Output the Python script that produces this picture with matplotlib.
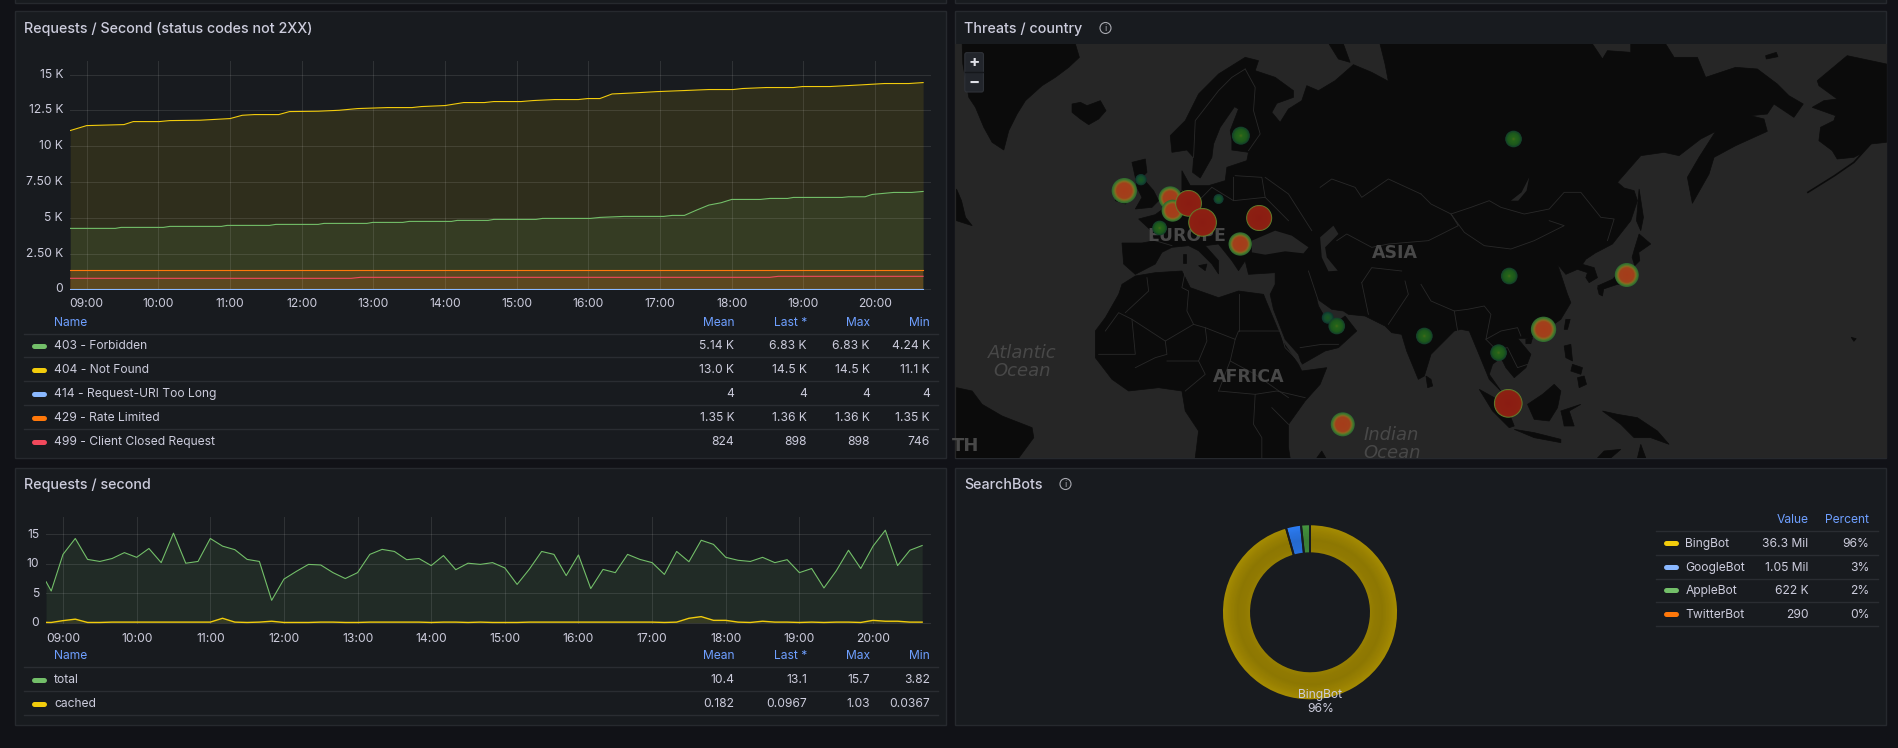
import numpy as np
import matplotlib
matplotlib.use('Agg')
import matplotlib.pyplot as plt
from matplotlib.patches import Rectangle, Circle, Polygon, FancyBboxPatch
from matplotlib.colors import LinearSegmentedColormap, to_rgb
from matplotlib.transforms import ScaledTranslation

plt.rcParams['font.family'] = ['Inter', 'DejaVu Sans']

W, H = 1899, 748
PAGE = '#111217'
PANEL = '#181b1f'
BORDER = '#26292e'
TEXT = '#ccccdc'
HEAD = '#6e9fff'
GREEN, YELLOW, BLUE, ORANGE, RED = '#73bf69', '#f2cc0c', '#8ab8ff', '#ff780a', '#f2495c'

# --- requests / second, status codes not 2XX (hours of the day, req/s)
t_404 = [8.77, 9.00, 9.52, 9.65, 10.01, 10.16, 10.58, 11.00, 11.17, 11.34, 11.68, 11.83, 12.23, 12.52, 12.78,
         13.20, 13.54, 13.67, 14.00, 14.26, 14.55, 14.68, 15.06, 15.23, 15.53, 15.86, 15.99, 16.16, 16.33, 16.62,
         16.96, 17.34, 17.68, 18.02, 18.15, 18.48, 18.86, 18.99, 19.37, 19.79, 20.13, 20.47, 20.67]
v_404 = [11094, 11440, 11510, 11720, 11720, 11790, 11815, 11930, 12160, 12210, 12210, 12420, 12445, 12510, 12630,
         12700, 12700, 12770, 12840, 13050, 13050, 13120, 13120, 13190, 13260, 13260, 13330, 13330, 13650, 13720,
         13815, 13890, 13960, 13960, 14030, 14100, 14100, 14170, 14170, 14280, 14380, 14380, 14445]
t_403 = [8.77, 9.40, 9.48, 10.07, 10.16, 10.88, 10.96, 11.55, 11.64, 12.23, 12.31, 12.91, 12.99, 13.41, 13.50,
         14.09, 14.17, 14.60, 14.68, 15.27, 15.36, 16.03, 16.16, 16.50, 17.05, 17.17, 17.34, 17.51, 17.68, 17.85,
         18.00, 18.40, 18.53, 18.78, 18.86, 19.54, 19.63, 19.86, 19.96, 20.26, 20.51, 20.67]
v_403 = [4257, 4257, 4326, 4326, 4396, 4396, 4466, 4466, 4536, 4536, 4605, 4605, 4675, 4675, 4745,
         4745, 4815, 4815, 4885, 4885, 4954, 4954, 5024, 5094, 5094, 5164, 5164, 5536, 5885, 6047,
         6280, 6280, 6350, 6350, 6420, 6420, 6466, 6466, 6629, 6769, 6769, 6838]
t_429 = [8.77, 20.67]
v_429 = [1326, 1326]
t_499 = [8.77, 12.69, 12.82, 18.53, 18.65, 20.67]
v_499 = [767, 767, 837, 837, 907, 907]
t_414 = [8.77, 20.67]
v_414 = [4, 4]

# --- requests / second
t_rps = [8.77, 8.84] + [9 + i / 6 for i in range(71)]
v_total = [6.96, 5.38, 11.6, 14.3, 10.75, 10.4, 10.9, 11.9, 11.1, 12.6, 10.2, 15.2, 10.1, 10.4, 14.3, 13.0, 12.4,
           10.75, 10.4, 3.8, 7.4, 8.7, 9.9, 9.8, 8.5, 7.5, 8.5, 11.6, 12.45, 12.1, 10.7, 10.9, 9.7, 11.4, 9.0, 10.1,
           9.9, 10.2, 9.3, 6.5, 9.1, 12.1, 11.6, 8.0, 11.5, 5.8, 9.05, 8.5, 11.6, 10.75, 10.2, 8.2, 12.1, 10.35, 14.0,
           13.3, 11.1, 10.6, 10.4, 11.1, 10.2, 10.7, 8.5, 9.2, 5.9, 8.8, 12.3, 9.2, 13.0, 15.7, 9.7, 12.3, 13.1]
v_cached = [0.05, 0.04, 0.35, 0.6, 0.04, 0.04, 0.1, 0.1, 0.1, 0.1, 0.1, 0.1, 0.1, 0.1, 0.1, 0.75, 0.1,
            0.04, 0.1, 0.25, 0.04, 0.04, 0.04, 0.1, 0.1, 0.04, 0.04, 0.1, 0.1, 0.1, 0.1, 0.1, 0.04, 0.1, 0.1, 0.04,
            0.1, 0.04, 0.04, 0.04, 0.1, 0.1, 0.1, 0.1, 0.1, 0.1, 0.1, 0.1, 0.1, 0.1, 0.1, 0.04, 0.1, 0.75, 1.03,
            0.4, 0.4, 0.1, 0.04, 0.25, 0.1, 0.1, 0.04, 0.1, 0.04, 0.1, 0.1, 0.04, 0.4, 0.25, 0.25, 0.1, 0.0967]

hour_ticks = list(range(9, 21))
hour_labels = ['%02d:00' % h for h in hour_ticks]
ticks_404 = [0, 2500, 5000, 7500, 10000, 12500, 15000]
ticklabels_404 = ['0', '2.50 K', '5 K', '7.50 K', '10 K', '12.5 K', '15 K']
ticks_rps = [0, 5, 10, 15]

# --- legend tables
table_cols = ['Mean', 'Last *', 'Max', 'Min']
names_status = ['403 - Forbidden', '404 - Not Found', '414 - Request-URI Too Long', '429 - Rate Limited',
                '499 - Client Closed Request']
colors_status = [GREEN, YELLOW, BLUE, ORANGE, RED]
stats_status = [['5.14 K', '6.83 K', '6.83 K', '4.24 K'], ['13.0 K', '14.5 K', '14.5 K', '11.1 K'],
                ['4', '4', '4', '4'], ['1.35 K', '1.36 K', '1.36 K', '1.35 K'], ['824', '898', '898', '746']]
names_rps = ['total', 'cached']
colors_rps = [GREEN, YELLOW]
stats_rps = [['10.4', '13.1', '15.7', '3.82'], ['0.182', '0.0967', '1.03', '0.0367']]

# --- searchbots donut
bot_names = ['BingBot', 'GoogleBot', 'AppleBot', 'TwitterBot']
bot_values = [36.3e6, 1.05e6, 622e3, 290]
bot_value_labels = ['36.3 Mil', '1.05 Mil', '622 K', '290']
bot_percent = ['96%', '3%', '2%', '0%']
bot_legend_colors = [YELLOW, BLUE, GREEN, ORANGE]
bot_slice_colors = ['#a68c02', '#2c7df5', '#45953f', '#ff780a']

# --- threat map, outlines traced by eye (map units, 3 per screen pixel)
eurasia = [(540, 691), (505, 660), (500, 597), (560, 597), (600, 590), (588, 560), (550, 525), (600, 512), (630, 490),
           (680, 440), (680, 380), (705, 425), (760, 425), (810, 410), (815, 370), (875, 350), (880, 325), (830, 318),
           (830, 290), (825, 260), (850, 195), (838, 188), (795, 250), (775, 300), (770, 340), (735, 402), (712, 385),
           (715, 340), (695, 318), (650, 325), (645, 275), (690, 230), (730, 150), (790, 90), (870, 40), (910, 50),
           (900, 80), (960, 100), (1015, 140), (1015, 160), (965, 178), (950, 205), (975, 235), (1000, 195),
           (1040, 170), (1055, 125), (1090, 140), (1140, 110), (1195, 62), (1250, 85), (1300, 112), (1290, 60),
           (1275, 0), (1913, 0), (1943, 45), (1958, 20), (2028, 25), (2028, 0), (2133, 0), (2158, 40), (2228, 40),
           (2253, 100), (2343, 70), (2408, 75), (2468, 120), (2503, 155), (2546, 180), (2518, 220), (2458, 180),
           (2438, 210), (2388, 215), (2428, 225), (2438, 262), (2343, 305), (2278, 340), (2263, 390), (2213, 478),
           (2198, 400), (2233, 340), (2283, 262), (2238, 285), (2173, 335), (2128, 325), (2058, 335), (1988, 415),
           (2008, 432), (2038, 440), (2048, 470), (2028, 530), (1973, 600), (1933, 621), (1923, 626), (1893, 646),
           (1883, 661), (1918, 671), (1928, 701), (1903, 716), (1893, 701), (1898, 686), (1868, 676), (1833, 691),
           (1808, 661), (1823, 706), (1838, 751), (1848, 776), (1818, 826), (1768, 861), (1723, 883), (1688, 883),
           (1728, 931), (1713, 971), (1678, 1001), (1653, 971), (1638, 941), (1613, 961), (1603, 991), (1638, 1041),
           (1603, 1006), (1568, 921), (1543, 861), (1518, 856), (1498, 861), (1428, 931), (1408, 996), (1390, 1006),
           (1355, 921), (1340, 871), (1310, 866), (1290, 846), (1230, 816), (1180, 811), (1165, 801), (1130, 796),
           (1095, 771), (1085, 766), (1090, 786), (1110, 821), (1150, 831), (1170, 816), (1205, 861), (1150, 911),
           (1110, 921), (1040, 961), (1030, 931), (990, 886), (955, 796), (945, 751), (960, 721), (960, 686),
           (880, 691), (870, 650), (850, 680), (830, 650), (790, 600), (750, 605), (790, 650), (790, 690), (770, 660),
           (730, 620), (700, 605), (650, 610), (620, 625), (600, 660)]
africa = [(500, 721), (540, 696), (600, 686), (680, 681), (705, 731), (790, 761), (850, 741), (925, 751), (935, 776),
          (985, 896), (1030, 961), (1040, 981), (1115, 971), (1095, 1021), (1050, 1071), (1000, 1141), (1000, 1211),
          (1005, 1242), (720, 1242), (730, 1161), (690, 1101), (680, 1041), (610, 1031), (520, 1041), (470, 1006),
          (420, 941), (420, 861), (450, 821), (490, 751)]
greenland = [(20, 0), (360, 0), (372, 40), (340, 70), (300, 100), (260, 125), (210, 170), (185, 210), (160, 260),
             (145, 318), (110, 295), (85, 250), (60, 190), (40, 160), (22, 60)]
alaska = [(2588, 110), (2678, 35), (2796, 60), (2796, 295), (2748, 300), (2718, 330), (2698, 340), (2648, 345),
          (2633, 320), (2593, 290), (2598, 250), (2638, 230), (2643, 215), (2573, 190), (2608, 170), (2648, 165),
          (2593, 125)]
islands = [
    [(350, 180), (375, 175), (395, 185), (435, 170), (452, 200), (430, 225), (400, 242), (375, 225), (350, 205)],
    [(485, 420), (525, 410), (535, 450), (510, 480), (480, 470)],
    [(530, 355), (570, 345), (575, 385), (560, 400), (595, 440), (610, 470), (590, 490), (540, 495), (560, 460),
     (545, 430), (540, 400)],
    [(1122, 0), (1165, 0), (1185, 55), (1150, 45)],
    [(3, 1031), (50, 1041), (80, 1081), (140, 1116), (230, 1151), (235, 1181), (190, 1242), (3, 1242)],
    [(3, 435), (18, 470), (30, 520), (50, 545), (3, 530)],
    [(1085, 1242), (1100, 1221), (1112, 1242)],
    [(1413, 996), (1428, 1006), (1433, 1026), (1418, 1031)],
    [(1573, 1036), (1618, 1061), (1668, 1121), (1678, 1146), (1663, 1151), (1613, 1101)],
    [(1678, 1156), (1738, 1166), (1818, 1186), (1818, 1196), (1738, 1181)],
    [(1718, 1081), (1763, 1051), (1798, 1021), (1818, 1041), (1808, 1091), (1783, 1131), (1738, 1126)],
    [(1818, 1101), (1878, 1081), (1843, 1101), (1858, 1146), (1828, 1146), (1823, 1121)],
    [(1943, 1101), (1988, 1111), (2048, 1121), (2108, 1161), (2143, 1201), (2088, 1181), (2038, 1181), (1998, 1141)],
    [(1828, 906), (1848, 901), (1853, 951), (1833, 941)],
    [(1868, 1001), (1888, 996), (1895, 1021), (1873, 1031)],
    [(1853, 961), (1883, 971), (1878, 991), (1848, 981)],
    [(1833, 826), (1846, 826), (1838, 856), (1828, 856)],
    [(1713, 886), (1733, 881), (1728, 899), (1713, 899)],
    [(1928, 726), (1973, 706), (1998, 681), (2018, 671), (2038, 681), (2023, 721), (1988, 721), (1943, 736)],
    [(1928, 731), (1948, 726), (1943, 756), (1933, 751)],
    [(2040, 612), (2053, 570), (2088, 600), (2052, 625), (2055, 650), (2040, 665), (2032, 640)],
    [(2053, 435), (2066, 520), (2058, 560), (2045, 530)],
    [(2433, 35), (2465, 25), (2470, 38), (2435, 45)],
    [(1928, 1242), (1948, 1221), (1998, 1216), (1968, 1242)],
    [(2048, 1242), (2058, 1201), (2073, 1242)],
    [(683, 631), (692, 631), (692, 656), (683, 656)],
    [(730, 665), (755, 660), (750, 680)],
    [(2690, 880), (2705, 884), (2698, 892)],
]
inland_seas = [
    [(890, 590), (960, 560), (1010, 575), (1060, 610), (1045, 628), (990, 622), (930, 632), (890, 625)],
    [(1095, 580), (1135, 545), (1150, 570), (1110, 610), (1115, 640), (1148, 680), (1120, 682), (1100, 640)],
    [(1723, 400), (1700, 445), (1668, 470), (1690, 470), (1715, 440)],
]
aleutians = [(2748, 300), (2698, 355), (2640, 395), (2560, 445)]
borders = [
    [(1398, 450), (1428, 480), (1488, 510), (1548, 490), (1603, 470), (1638, 490), (1708, 510), (1783, 495),
     (1828, 445), (1878, 445), (1938, 520), (1978, 525), (1958, 590)],
    [(1488, 510), (1528, 565), (1588, 605), (1668, 615), (1738, 590), (1828, 545), (1783, 530)],
    [(1095, 430), (1130, 405), (1200, 430), (1220, 460), (1300, 405), (1398, 450)],
    [(1488, 510), (1510, 545), (1420, 590), (1300, 600), (1250, 610), (1175, 570), (1145, 590)],
    [(450, 861), (490, 806), (530, 826), (630, 891), (715, 841), (750, 851), (840, 886), (850, 861), (975, 861)],
    [(850, 751), (850, 861)],
    [(510, 806), (580, 741), (575, 701)],
    [(690, 681), (680, 731), (700, 741), (695, 801), (715, 841)],
    [(530, 826), (540, 931), (430, 931)],
    [(630, 891), (635, 931), (600, 941), (540, 971)],
    [(750, 851), (755, 891), (730, 951), (635, 951)],
    [(840, 886), (825, 951), (790, 1041)],
    [(730, 951), (750, 991), (690, 1041)],
    [(825, 951), (900, 991), (1000, 1061)],
    [(975, 861), (990, 911), (1040, 961)],
    [(790, 1041), (900, 1051), (965, 1041), (1050, 1061)],
    [(900, 1051), (895, 1141), (920, 1181), (920, 1242)],
    [(1000, 1141), (950, 1091)],
    [(1035, 911), (1100, 901), (1150, 901)],
    [(1060, 681), (1090, 771)],
    [(1220, 716), (1250, 671), (1340, 681)],
    [(1220, 716), (1240, 811)],
    [(1300, 841), (1360, 751), (1350, 711)],
    [(1398, 721), (1428, 771), (1498, 801), (1538, 796), (1588, 786), (1608, 811), (1593, 886), (1638, 861),
     (1688, 851), (1698, 876)],
    [(1498, 801), (1508, 861)],
    [(1593, 886), (1623, 916), (1658, 911), (1688, 971), (1718, 961)],
    [(715, 340), (720, 230), (790, 140), (830, 100), (870, 75)],
    [(870, 75), (900, 130), (895, 200), (915, 270), (880, 320)],
    [(770, 430), (835, 470), (835, 400)],
    [(835, 470), (930, 460), (1000, 530)],
    [(840, 395), (920, 400), (930, 460)],
    [(930, 400), (1000, 450), (1070, 560)],
    [(680, 440), (730, 470), (770, 430)],
    [(600, 590), (650, 605)],
]
map_labels = [('EUROPE', 695, 575, 12.5, 'normal'), ('ASIA', 1320, 626, 12.5, 'normal'), ('AFRICA', 880, 999, 12.5, 'normal'),
              ('Atlantic', 200, 926, 13, 'italic'), ('Ocean', 200, 981, 13, 'italic'),
              ('Indian', 1310, 1174, 13, 'italic'), ('Ocean', 1310, 1226, 13, 'italic'), ('TH', 30, 1206, 13, 'normal')]

threat_x = [857, 557, 507, 645, 652, 700, 742, 790, 613, 912, 855, 1676, 1118, 1145, 1163, 1663, 2016, 1766, 1631, 1408, 1660]
threat_y = [275, 407, 440, 462, 500, 478, 535, 465, 552, 522, 600, 285, 821, 846, 1141, 696, 693, 856, 926, 876, 1078]
threat_r = [27, 17, 38, 35, 33, 40, 43, 15, 22, 39, 35, 25, 18, 25, 36, 25, 36, 38, 25, 25, 43]

heat_big = LinearSegmentedColormap.from_list('big', [(0, '#8a1c12'), (0.9, '#8c2012'), (0.97, '#7a4a1e'), (1, '#5f8a30')])
heat_mid = LinearSegmentedColormap.from_list('mid', [(0, '#a53c1a'), (0.62, '#a2401b'), (0.76, '#8a6a20'),
                                                     (0.86, '#4f7a2c'), (1, '#2f6a30')])
heat_low = LinearSegmentedColormap.from_list('low', [(0, '#4a6a18'), (0.25, '#25641a'), (0.7, '#1d5a1c'), (1, '#143f2c')])
heat_tiny = LinearSegmentedColormap.from_list('tiny', [(0, '#1a5a20'), (0.6, '#154e30'), (1, '#10342e')])


def px_axes(left, top, right, bottom, **kw):
    return fig.add_axes([left / W, 1 - bottom / H, (right - left) / W, (bottom - top) / H], **kw)


def panel(x0, y0, x1, y1):
    chrome.add_patch(Rectangle((x0, y0), x1 - x0, y1 - y0, facecolor=PANEL, edgecolor=BORDER, lw=1))


def info_icon(x, y):
    chrome.add_patch(Circle((x, y), 5.5, facecolor='none', edgecolor='#a8a9b0', lw=0.8, zorder=3))
    chrome.text(x, y, 'i', color='#a8a9b0', fontsize=6.5, ha='center', va='center', zorder=3)


def style_chart(ax):
    ax.set_facecolor('none')
    for s in ax.spines.values():
        s.set_visible(False)
    ax.grid(True, color='white', alpha=0.1, lw=0.8)
    ax.tick_params(length=0, colors=TEXT, labelsize=8.7)
    ax.set_xticks(hour_ticks, hour_labels)


def raise_ylabels(ax, px):
    # grafana sets its y labels slightly above the grid line
    for lbl in ax.get_yticklabels():
        lbl.set_transform(lbl.get_transform() + ScaledTranslation(0, px / 100, fig.dpi_scale_trans))


def legend_table(col_x, names, colors, stats, y_head, y_rows, y_lines, x0=24, x1=938):
    for x, c in zip(col_x, table_cols):
        chrome.text(x, y_head, c, color=HEAD, fontsize=8.7, ha='right', va='center', zorder=3)
    chrome.text(54, y_head, 'Name', color=HEAD, fontsize=8.7, ha='left', va='center', zorder=3)
    for y in y_lines:
        chrome.plot([x0, x1], [y, y], color='#2a2d32', lw=1, zorder=2)
    for name, col, row, y in zip(names, colors, stats, y_rows):
        chrome.plot([34, 44], [y, y], color=col, lw=3.6, solid_capstyle='round', zorder=3)
        chrome.text(54, y, name, color=TEXT, fontsize=8.7, ha='left', va='center', zorder=3)
        for x, s in zip(col_x, row):
            chrome.text(x, y, s, color=TEXT, fontsize=8.7, ha='right', va='center', zorder=3)


fig = plt.figure(figsize=(W / 100, H / 100), dpi=100, facecolor=PAGE)
chrome = fig.add_axes([0, 0, 1, 1], zorder=0)
chrome.set_xlim(0, W)
chrome.set_ylim(H, 0)
chrome.axis('off')

panel(15, -5, 946, 2.5)
panel(955, -5, 1886.5, 2.5)
panel(15, 11, 946, 458)
panel(955, 11, 1886.5, 458)
panel(15, 467.5, 946, 724.5)
panel(955, 467.5, 1886.5, 724.5)

chrome.text(24, 29, 'Requests / Second (status codes not 2XX)', color=TEXT, fontsize=10.3, va='center', weight='medium', zorder=3)
chrome.text(964, 29, 'Threats / country', color=TEXT, fontsize=10.3, va='center', weight='medium', zorder=3)
chrome.text(24, 485.3, 'Requests / second', color=TEXT, fontsize=10.3, va='center', weight='medium', zorder=3)
chrome.text(964, 485.3, 'SearchBots', color=TEXT, fontsize=10.3, va='center', weight='medium', zorder=3)
info_icon(1105.5, 28)
info_icon(1065.5, 484)

# status codes chart
ax1 = px_axes(70, 60.7, 931, 289.8, zorder=2)
style_chart(ax1)
ax1.fill_between(t_404, 0, v_404, color=YELLOW, alpha=0.11, lw=0)
ax1.fill_between(t_403, 0, v_403, color=GREEN, alpha=0.1, lw=0)
ax1.fill_between(t_429, 0, v_429, color=ORANGE, alpha=0.19, lw=0)
ax1.fill_between(t_499, 0, v_499, color=RED, alpha=0.02, lw=0)
ax1.plot(t_403, v_403, color=GREEN, lw=0.8)
ax1.plot(t_404, v_404, color=YELLOW, lw=0.8)
ax1.plot(t_414, v_414, color=BLUE, lw=0.8)
ax1.plot(t_429, v_429, color=ORANGE, lw=0.8)
ax1.plot(t_499, v_499, color=RED, lw=0.8)
ax1.set_xlim(8.767, 20.78)
ax1.set_ylim(-35, 15975)
ax1.set_yticks(ticks_404, ticklabels_404)
ax1.tick_params(axis='x', pad=6)
ax1.tick_params(axis='y', pad=5)
raise_ylabels(ax1, 1.5)

legend_table([734.5, 807, 870, 930], names_status, colors_status, stats_status, 323.3,
             [345.7, 369.7, 393.9, 417.7, 441.9], [334.3, 357.3, 381.3, 405.3, 429.3])

# requests / second chart
ax2 = px_axes(46, 516.7, 931, 623.7, zorder=2)
style_chart(ax2)
ax2.fill_between(t_rps, 0, v_total, color=GREEN, alpha=0.1, lw=0)
ax2.fill_between(t_rps, 0, v_cached, color=YELLOW, alpha=0.1, lw=0)
ax2.plot(t_rps, v_total, color=GREEN, lw=0.8)
ax2.plot(t_rps, v_cached, color=YELLOW, lw=1)
ax2.set_xlim(8.769, 20.787)
ax2.set_ylim(-0.17, 18)
ax2.set_yticks(ticks_rps)
ax2.tick_params(axis='x', pad=7)
ax2.tick_params(axis='y', pad=5)
raise_ylabels(ax2, 1)

legend_table([734.5, 807, 870, 930], names_rps, colors_rps, stats_rps, 656.2, [679.7, 703.7],
             [667.3, 691.3, 715.3])

# threat map
ax3 = px_axes(955.5, 44, 1886.5, 458, zorder=2)
ax3.set_xlim(0, 2796)
ax3.set_ylim(1242, 0)
ax3.set_xticks([])
ax3.set_yticks([])
ax3.set_facecolor('#262626')
for s in ax3.spines.values():
    s.set_visible(False)
LAND = '#0b0b0b'
for poly in [eurasia, africa, greenland, alaska] + islands:
    ax3.add_patch(Polygon(poly, closed=True, facecolor=LAND, edgecolor=LAND, lw=0.5, zorder=1))
for poly in inland_seas:
    ax3.add_patch(Polygon(poly, closed=True, facecolor='#262626', edgecolor='none', zorder=2))
ax3.plot(*zip(*aleutians), color=LAND, lw=1.2, zorder=1)
for line in borders:
    ax3.plot(*zip(*line), color='#292929', lw=0.6, zorder=3)
for text, x, y, size, style in map_labels:
    ax3.text(x, y, text, color='#484848', fontsize=size, style=style, ha='center', va='center', zorder=4,
             family=['DejaVu Sans'], weight='bold' if style == 'normal' else 'normal')
for x, y, r in zip(threat_x, threat_y, threat_r):
    cmap = heat_big if r >= 39 else heat_mid if r >= 30 else heat_low if r >= 20 else heat_tiny
    for f in np.linspace(1, 0.04, 20):
        ax3.add_patch(Circle((x, y), r * f, facecolor=cmap(f), edgecolor='none', zorder=5))

ax3.add_patch(FancyBboxPatch((28, 26), 56, 118, boxstyle='round,pad=0,rounding_size=6', facecolor='#22252b',
                             edgecolor='#2f3238', lw=0.8, zorder=6))
ax3.plot([28, 84], [84, 84], color='#15171b', lw=1, zorder=7)
ax3.text(56, 56, '+', color='#e0e1e8', fontsize=12, weight='bold', ha='center', va='center', zorder=7)
ax3.text(56, 115, '\u2212', color='#e0e1e8', fontsize=12, weight='bold', ha='center', va='center', zorder=7)

# searchbots donut
ax4 = px_axes(1210, 512.3, 1410, 712.3, zorder=2)
ax4.set_facecolor('none')
radii = np.arange(88, 59.5, -1.5)
shades = np.interp(radii, [59, 66, 73, 81, 88], [0.93, 0.87, 0.85, 0.92, 1.0])
for radius, shade in zip(radii, shades):
    band_colors = [tuple(c * shade for c in to_rgb(col)) for col in bot_slice_colors]
    ax4.pie(bot_values, colors=band_colors, radius=radius, startangle=90, counterclock=False,
            wedgeprops=dict(width=radius - 59, lw=0))
ax4.pie(bot_values, colors=['none'] * 4, radius=88, startangle=90, counterclock=False,
        wedgeprops=dict(width=29, edgecolor=PANEL, lw=1.4))
ax4.set_xlim(-100, 100)
ax4.set_ylim(-100, 100)
ax4.set_aspect('equal')
ax4.axis('off')
ax4.text(10.5, -82.4, bot_names[0], color=TEXT, fontsize=8.7, ha='center', va='center', clip_on=False)
ax4.text(10.5, -96.7, bot_percent[0], color=TEXT, fontsize=8.7, ha='center', va='center', clip_on=False)

chrome.text(1808.4, 520, 'Value', color=HEAD, fontsize=8.7, ha='right', va='center', zorder=3)
chrome.text(1869.5, 520, 'Percent', color=HEAD, fontsize=8.7, ha='right', va='center', zorder=3)
for y in [531.3, 555.3, 579.3, 602.3, 626.3]:
    chrome.plot([1656, 1878], [y, y], color='#2a2d32', lw=1, zorder=2)
for name, col, val, pct, y in zip(bot_names, bot_legend_colors, bot_value_labels, bot_percent,
                                  [543.7, 567.7, 590.7, 614.7]):
    chrome.plot([1666.5, 1676], [y - 0.5, y - 0.5], color=col, lw=3.6, solid_capstyle='round', zorder=3)
    chrome.text(1685.5, y, name, color=TEXT, fontsize=8.7, ha='left', va='center', zorder=3)
    chrome.text(1808.4, y, val, color=TEXT, fontsize=8.7, ha='right', va='center', zorder=3)
    chrome.text(1869.5, y, pct, color=TEXT, fontsize=8.7, ha='right', va='center', zorder=3)

fig.savefig('out.png', dpi=100, facecolor=PAGE)
